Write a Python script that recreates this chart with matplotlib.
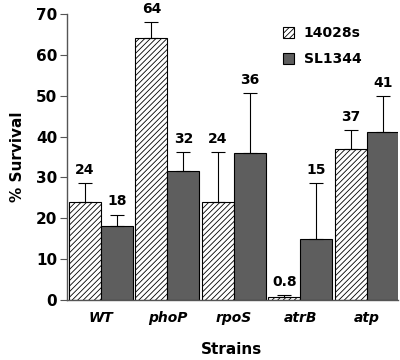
import matplotlib
matplotlib.use("Agg")
import matplotlib.pyplot as plt
import numpy as np

strains = ["WT", "phoP", "rpoS", "atrB", "atp"]
s14028 = [24, 64, 24, 0.8, 37]
s14028_err = [4.6, 4.0, 12.2, 0.4, 4.6]
sl1344 = [18, 31.5, 36, 15, 41]
sl1344_err = [2.9, 4.8, 14.6, 13.7, 8.9]
labels14028 = ["24", "64", "24", "0.8", "37"]
labelsSL = ["18", "32", "36", "15", "41"]
yticks = [0, 10, 20, 30, 40, 50, 60, 70]

plt.rcParams['font.family'] = ['DejaVu Sans']
plt.rcParams['hatch.linewidth'] = 0.6

fig = plt.figure(figsize=(4, 3.6), dpi=100)
ax = fig.add_axes([0.1675, 0.1667, 0.8275, 0.7945])

x = np.arange(len(strains))
w = 0.48
ax.bar(x - w/2, s14028, w, color="white", edgecolor="black", hatch="//////", linewidth=0.8,
       label="14028s")
ax.bar(x + w/2, sl1344, w, color="#5e5e5e", edgecolor="black", linewidth=0.8,
       label="SL1344")
ax.errorbar(x - w/2, s14028, yerr=[np.zeros(5), s14028_err], fmt="none", ecolor="black",
            elinewidth=0.8, capsize=5, capthick=0.8)
ax.errorbar(x + w/2, sl1344, yerr=[np.zeros(5), sl1344_err], fmt="none", ecolor="black",
            elinewidth=0.8, capsize=5, capthick=0.8)

for xi, v, e, t in zip(x - w/2, s14028, s14028_err, labels14028):
    ax.text(xi, v + e + 1.5, t, ha="center", va="bottom", fontsize=10, fontweight="bold")
for xi, v, e, t in zip(x + w/2, sl1344, sl1344_err, labelsSL):
    ax.text(xi, v + e + 1.5, t, ha="center", va="bottom", fontsize=10, fontweight="bold")

ax.set_xlim(-0.51, 4.47)
ax.set_ylim(0, 70)
ax.set_yticks(yticks)
ax.set_yticklabels([str(t) for t in yticks], fontsize=11, fontweight="bold")
ax.set_xticks(x)
ax.set_xticklabels(strains, fontsize=10, fontstyle="italic", fontweight="bold")
ax.tick_params(axis="x", length=0, pad=8)
ax.tick_params(axis="y", length=5, width=0.8, color="#555555", pad=2)
for s in ["top", "right"]:
    ax.spines[s].set_visible(False)
for s in ["left", "bottom"]:
    ax.spines[s].set_color("#555555")
    ax.spines[s].set_linewidth(1.0)

ax.set_ylabel("% Survival", fontsize=11, fontweight="bold", labelpad=8)
fig.text(0.58, 1 - 350/360, "Strains", ha="center", va="center", fontsize=11, fontweight="bold")

ax.legend(loc="upper left", bbox_to_anchor=(0.615, 1.0), frameon=False,
          handlelength=0.8, handleheight=0.8, handletextpad=0.7, labelspacing=0.85,
          prop={"weight": "bold", "size": 10})

fig.savefig("out.png", dpi=100)
